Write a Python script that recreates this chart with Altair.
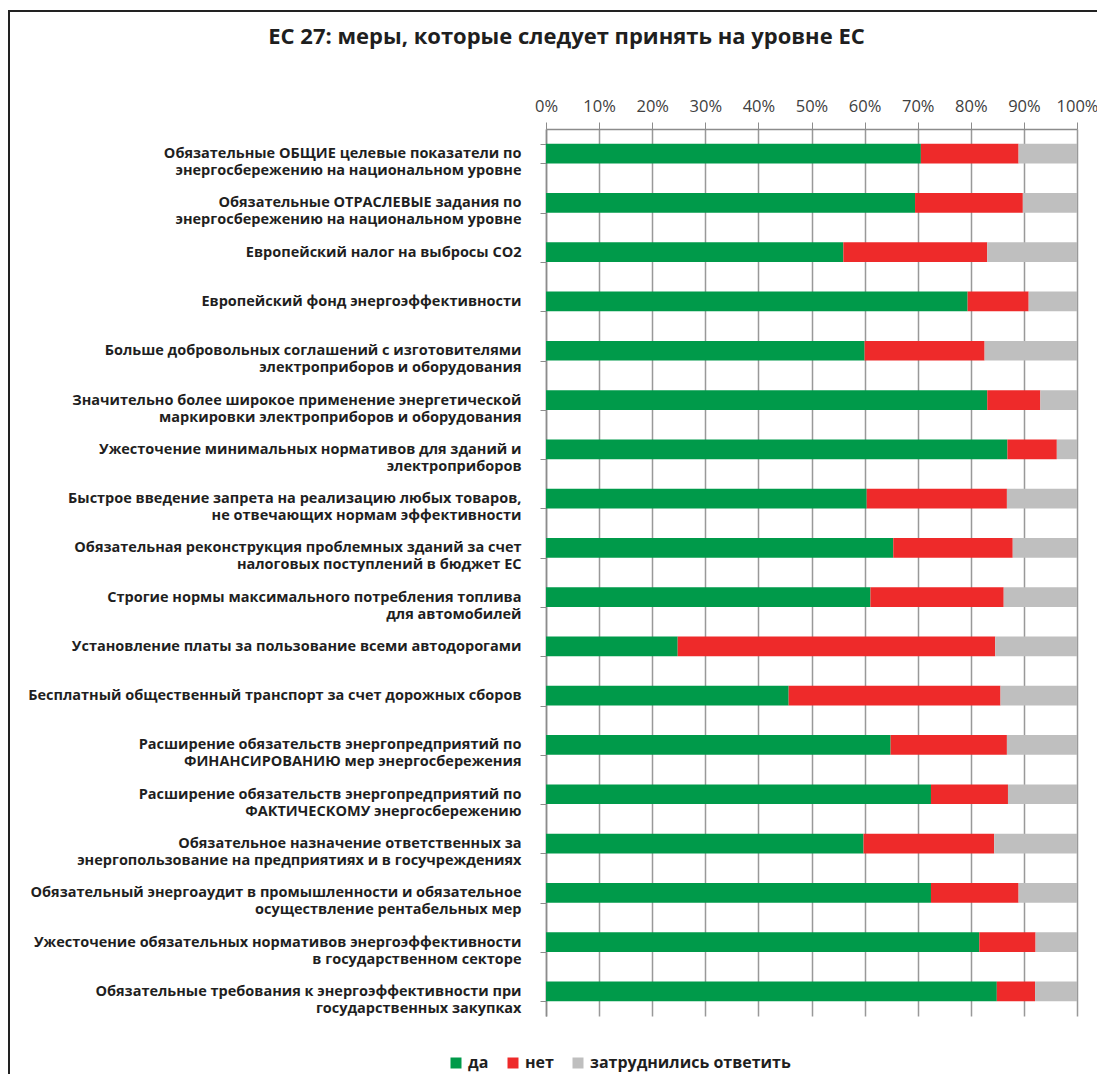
import altair as alt
import pandas as pd

categories = [
    "Обязательные ОБЩИЕ целевые показатели по|энергосбережению на национальном уровне",
    "Обязательные ОТРАСЛЕВЫЕ задания по|энергосбережению на национальном уровне",
    "Европейский налог на выбросы СО2",
    "Европейский фонд энергоэффективности",
    "Больше добровольных соглашений с изготовителями|электроприборов и оборудования",
    "Значительно более широкое применение энергетической|маркировки электроприборов и оборудования",
    "Ужесточение минимальных нормативов для зданий и|электроприборов",
    "Быстрое введение запрета на реализацию любых товаров,|не отвечающих нормам эффективности",
    "Обязательная реконструкция проблемных зданий за счет|налоговых поступлений в бюджет ЕС",
    "Строгие нормы максимального потребления топлива|для автомобилей",
    "Установление платы за пользование всеми автодорогами",
    "Бесплатный общественный транспорт за счет дорожных сборов",
    "Расширение обязательств энергопредприятий по|ФИНАНСИРОВАНИЮ мер энергосбережения",
    "Расширение обязательств энергопредприятий по|ФАКТИЧЕСКОМУ энергосбережению",
    "Обязательное назначение ответственных за|энергопользование на предприятиях и в госучреждениях",
    "Обязательный энергоаудит в промышленности и обязательное|осуществление рентабельных мер",
    "Ужесточение обязательных нормативов энергоэффективности|в государственном секторе",
    "Обязательные требования к энергоэффективности при|государственных закупках",
]

da = [70.6, 69.5, 56.0, 79.4, 60.0, 83.1, 86.9, 60.4, 65.4, 61.1, 24.8, 45.7, 64.9, 72.5, 59.8, 72.5, 81.6, 84.9]
net = [18.4, 20.3, 27.1, 11.5, 22.6, 10.0, 9.3, 26.4, 22.5, 25.1, 59.8, 39.9, 21.9, 14.5, 24.6, 16.5, 10.6, 7.2]
zatr = [11.0, 10.2, 16.9, 9.1, 17.4, 6.9, 3.8, 13.2, 12.1, 13.8, 15.4, 14.4, 13.2, 13.0, 15.6, 11.0, 7.8, 7.9]

answers = ["да", "нет", "затруднились ответить"]
colors = ["#009A4A", "#EE2A2A", "#BFBFBF"]
ticks = [0, 0.1, 0.2, 0.3, 0.4, 0.5, 0.6, 0.7, 0.8, 0.9, 1.0]

rows = []
for i, c in enumerate(categories):
    for j, (a, series) in enumerate(zip(answers, [da, net, zatr])):
        rows.append({"category": c, "answer": a, "value": series[i], "idx": j})
df = pd.DataFrame(rows)

FONT = "Open Sans"
TXT = "#1f1f1f"

bars = alt.Chart(df).mark_bar().encode(
    y=alt.Y(
        "category:N",
        sort=categories,
        scale=alt.Scale(paddingInner=0.6, paddingOuter=0.3),
        axis=alt.Axis(
            title=None,
            labelExpr="split(datum.label, '|')",
            labelFont=FONT,
            labelFontWeight="bold",
            labelFontSize=14.5,
            labelColor=TXT,
            labelLineHeight=17,
            labelPadding=19,
            labelLimit=700,
            tickBand="extent",
            ticks=True,
            tickSize=6,
            tickColor="#8c8c8c",
            domainColor="#8c8c8c",
            domainWidth=1.5,
        ),
    ),
    x=alt.X(
        "value:Q",
        stack="normalize",
        scale=alt.Scale(domain=[0, 1]),
        axis=alt.Axis(
            orient="top",
            title=None,
            format="%",
            values=ticks,
            labelOverlap=False,
            labelFlush=False,
            grid=True,
            gridColor="#999999",
            gridWidth=1.5,
            domainColor="#8c8c8c",
            domainWidth=1.5,
            tickColor="#8c8c8c",
            tickSize=7,
            labelPadding=8,
            labelFont=FONT,
            labelFontSize=16.5,
            labelColor="#404040",
        ),
    ),
    color=alt.Color(
        "answer:N",
        scale=alt.Scale(domain=answers, range=colors),
        legend=alt.Legend(
            orient="none",
            legendX=-98,
            legendY=926,
            direction="horizontal",
            title=None,
            symbolType="square",
            symbolSize=121,
            symbolStrokeWidth=0,
            symbolOpacity=1,
            labelFont=FONT,
            labelFontWeight="bold",
            labelFontSize=16,
            labelColor=TXT,
            labelOffset=4,
            labelLimit=400,
            columnPadding=16,
        ),
    ),
    order=alt.Order("idx:Q"),
)

frame_df = pd.DataFrame({"k": [0]})
frame_left = alt.Chart(frame_df).mark_rule(color="#222222", strokeWidth=2).encode(
    x=alt.value(-537), y=alt.value(-119), y2=alt.value(960)
)
frame_top = alt.Chart(frame_df).mark_rule(color="#222222", strokeWidth=2).encode(
    x=alt.value(-538), x2=alt.value(560), y=alt.value(-118)
)

chart = alt.layer(bars, frame_left, frame_top).properties(
    width=531,
    height=887,
    autosize=alt.AutoSizeParams(type="none"),
    padding={"left": 538, "top": 121, "right": 20, "bottom": 58},
    title=alt.Title(
        "ЕС 27: меры, которые следует принять на уровне ЕС",
        font=FONT,
        fontSize=22,
        fontWeight="bold",
        color=TXT,
        anchor="middle",
        frame="group",
        dx=-245,
        dy=40,
        offset=0,
    ),
).configure_view(stroke=None)

chart.save("out.html", embed_options={"renderer": "svg", "actions": False})
